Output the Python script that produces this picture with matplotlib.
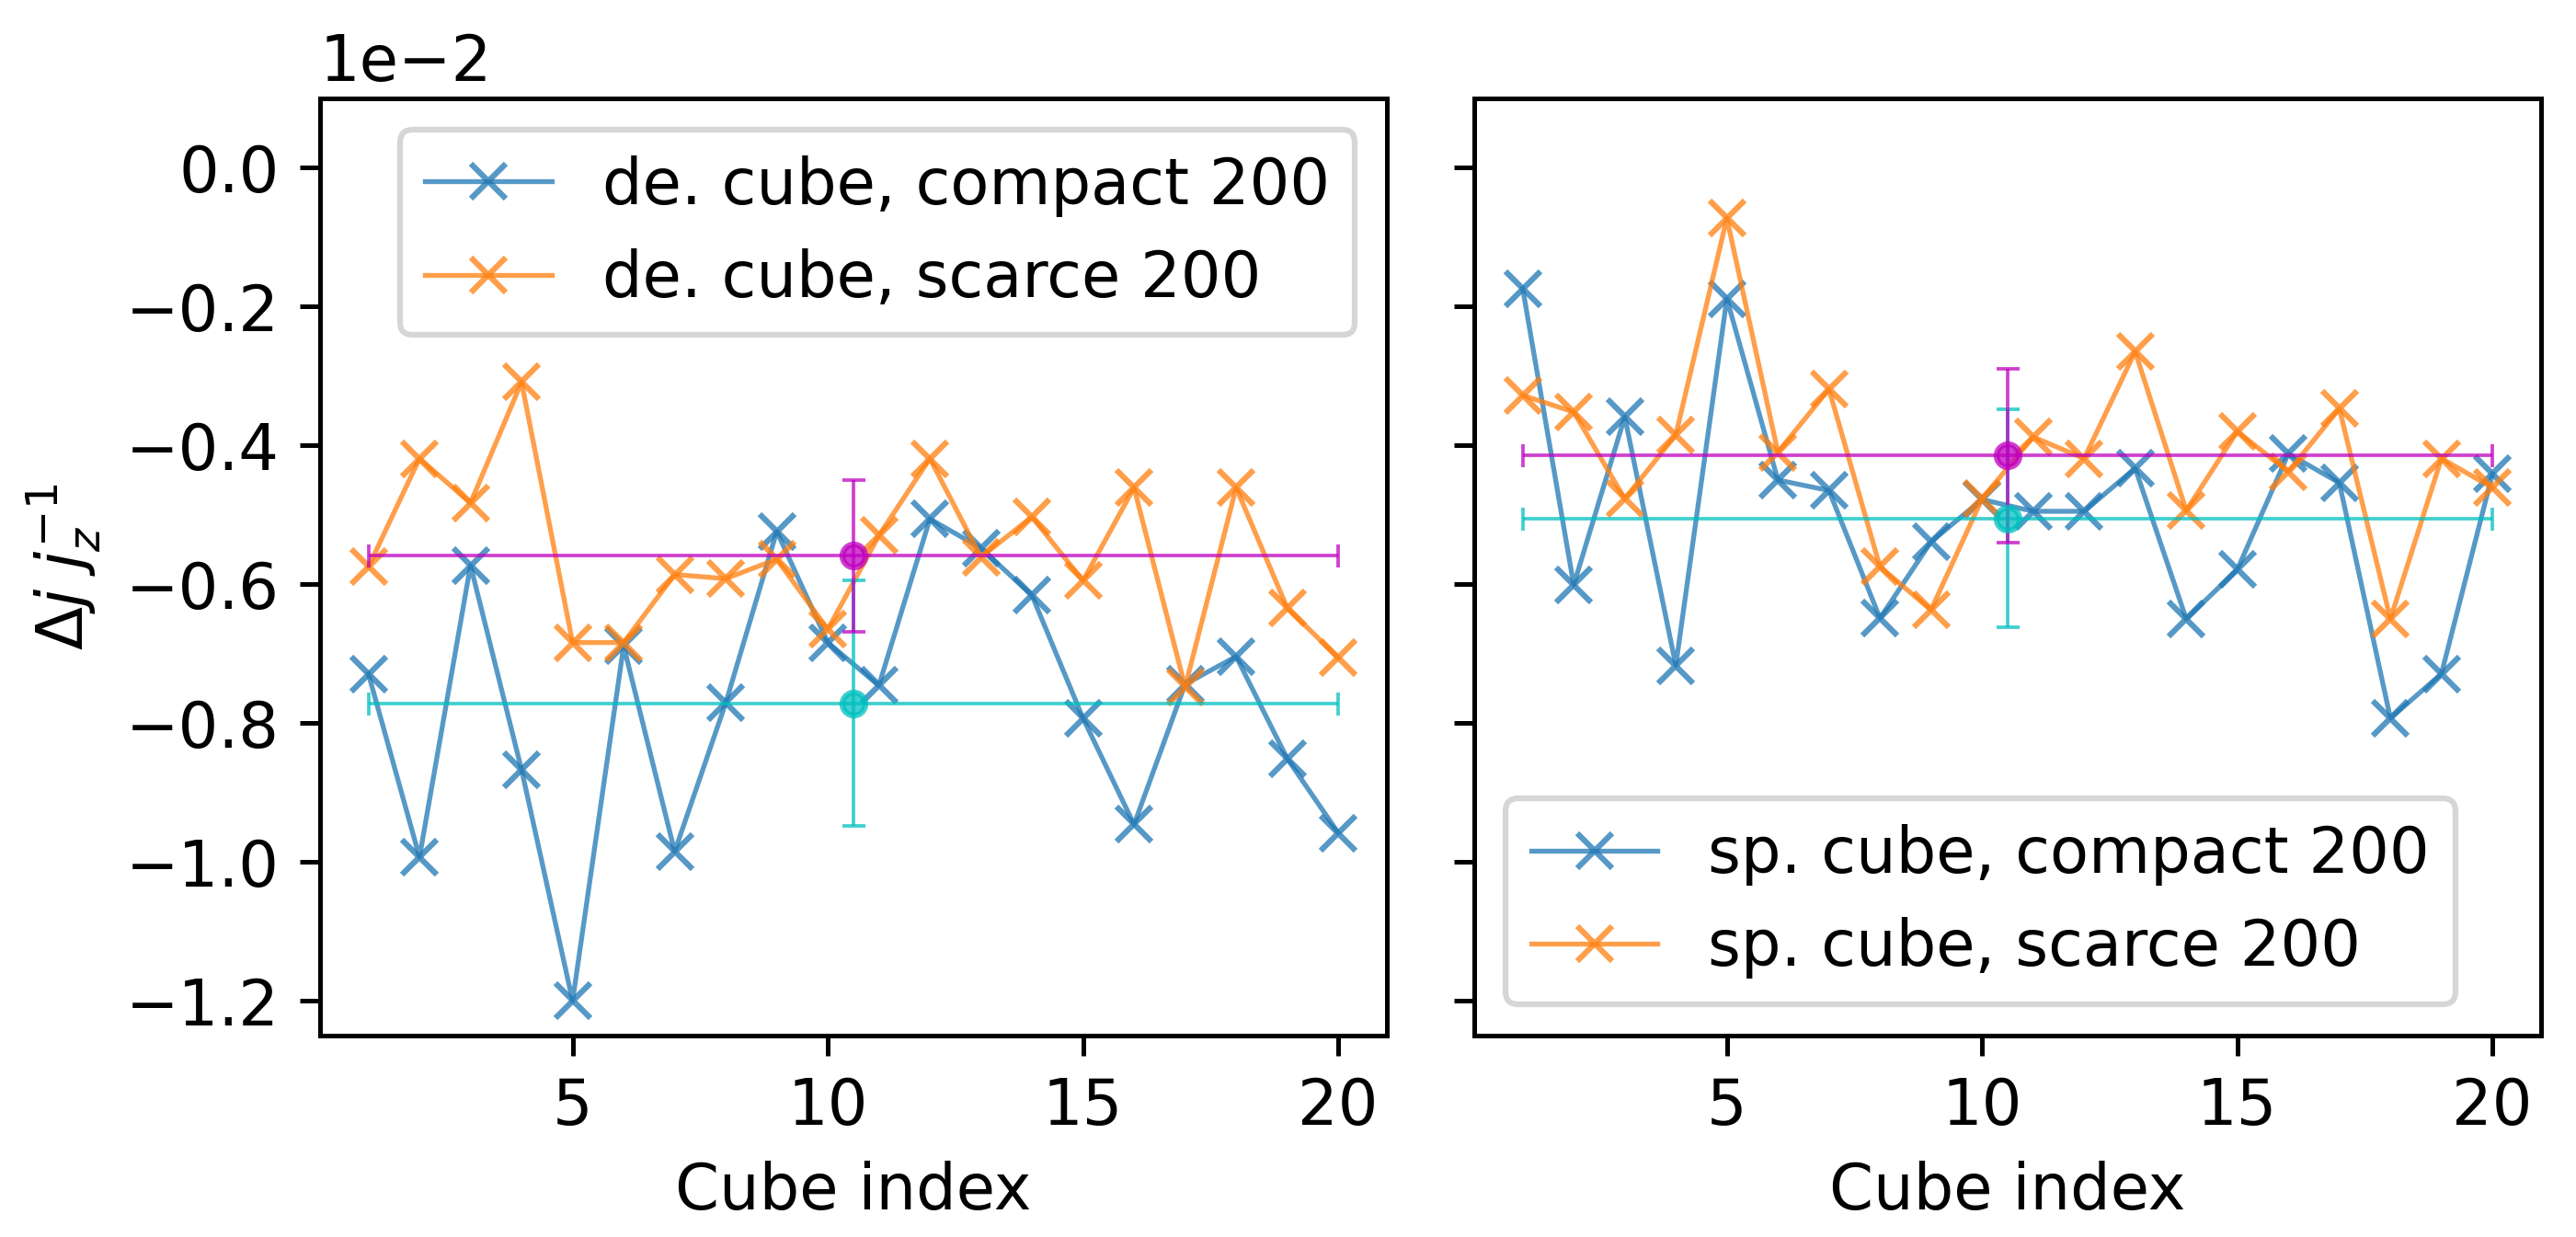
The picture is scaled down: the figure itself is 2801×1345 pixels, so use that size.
import numpy as np
import matplotlib
matplotlib.use("Agg")
import matplotlib.pyplot as plt

cube_index = list(range(1, 21))

# values in units of 1e-2
de_compact = [-0.729, -0.993, -0.573, -0.867, -1.200, -0.689, -0.985, -0.771, -0.524, -0.684,
              -0.746, -0.506, -0.548, -0.616, -0.793, -0.946, -0.744, -0.704, -0.851, -0.958]
de_scarce = [-0.575, -0.419, -0.483, -0.309, -0.684, -0.684, -0.586, -0.592, -0.564, -0.665,
             -0.530, -0.419, -0.561, -0.503, -0.595, -0.461, -0.748, -0.461, -0.634, -0.706]
sp_compact = [-0.174, -0.601, -0.359, -0.717, -0.189, -0.450, -0.465, -0.649, -0.539, -0.478,
              -0.495, -0.495, -0.433, -0.650, -0.579, -0.412, -0.454, -0.793, -0.729, -0.441]
sp_scarce = [-0.328, -0.352, -0.477, -0.385, -0.073, -0.410, -0.319, -0.575, -0.637, -0.477,
             -0.388, -0.419, -0.265, -0.494, -0.380, -0.438, -0.347, -0.650, -0.419, -0.461]

labels_left = ["de. cube, compact 200", "de. cube, scarce 200"]
labels_right = ["sp. cube, compact 200", "sp. cube, scarce 200"]

plt.rcParams['font.size'] = 11
plt.rcParams['font.family'] = ['DejaVu Sans']

DPI = 450
fig, axes = plt.subplots(1, 2, figsize=(2801 / DPI, 1345 / DPI), dpi=DPI, sharey=True)
fig.subplots_adjust(left=0.1242, right=0.9864, top=0.9207, bottom=0.1628, wspace=0.082)

x = np.array(cube_index)
panels = [
    (axes[0], de_compact, de_scarce, labels_left, 'upper right'),
    (axes[1], sp_compact, sp_scarce, labels_right, 'lower left'),
]
for ax, comp, scar, labs, loc in panels:
    comp = np.array(comp) * 1e-2
    scar = np.array(scar) * 1e-2
    ax.plot(x, comp, marker='x', color='tab:blue', alpha=0.75, lw=0.85, label=labs[0])
    ax.plot(x, scar, marker='x', color='tab:orange', alpha=0.75, lw=0.85, label=labs[1])
    xm = x.mean()
    xe = (x.max() - x.min()) / 2
    ax.errorbar(xm, comp.mean(), xerr=xe, yerr=comp.std(), fmt='o', color='c',
                alpha=0.75, ms=4, lw=0.6, capsize=2, capthick=0.6)
    ax.errorbar(xm, scar.mean(), xerr=xe, yerr=scar.std(), fmt='o', color='m',
                alpha=0.75, ms=4, lw=0.6, capsize=2, capthick=0.6)
    ax.set_xlabel('Cube index')
    ax.legend(loc=loc)

axes[0].set_ylim(-0.0125, 0.001)
axes[0].ticklabel_format(axis='y', style='sci', scilimits=(0, 0))
axes[0].set_ylabel(r'$\Delta j\ j_z^{-1}$')

fig.savefig('out.png', dpi=DPI)
